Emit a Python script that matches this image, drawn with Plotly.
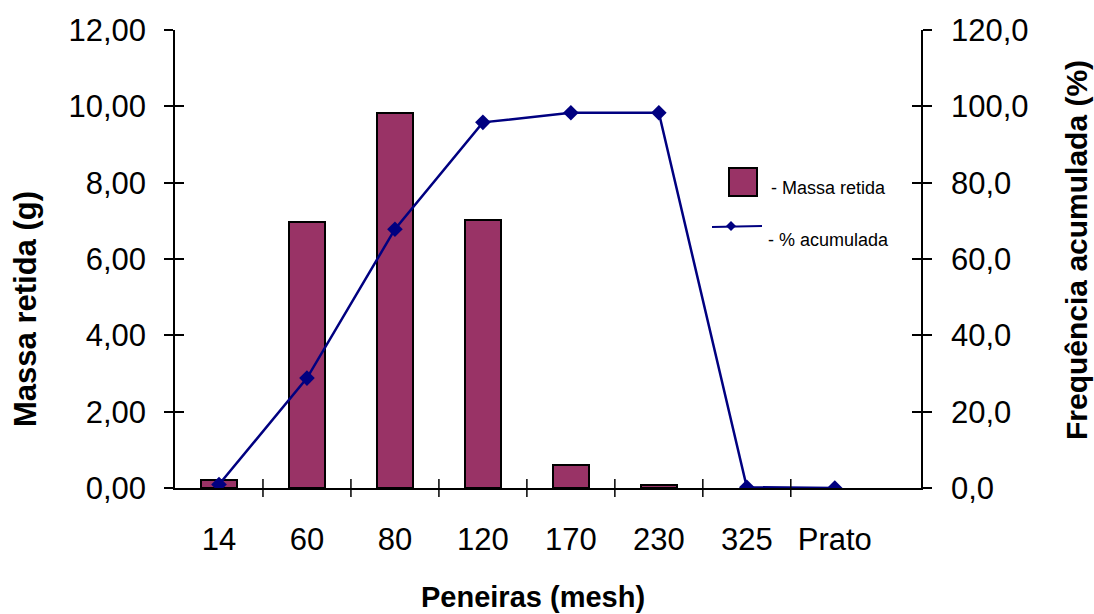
import plotly.graph_objects as go

# Sieve data
peneiras = ["14", "60", "80", "120", "170", "230", "325", "Prato"]
massa_retida = [0.22, 6.98, 9.82, 7.03, 0.60, 0.07, 0.0, 0.0]
pct_acumulada = [0.9, 28.8, 67.8, 95.8, 98.3, 98.3, 0.2, 0.0]

left_ticks = [0, 2, 4, 6, 8, 10, 12]
right_ticks = [0, 20, 40, 60, 80, 100, 120]

BAR_COLOR = "#993366"
LINE_COLOR = "#000080"
FONT = "Liberation Sans, Arial, sans-serif"

W, H = 1094, 614
L, R, T, B = 175, 921, 30, 488  # plot area in pixels


def px(x):
    return (x - L) / (R - L)


def py(y):
    return (B - y) / (B - T)


xpos = list(range(len(peneiras)))
# empty sieves get no outline
bar_edges = [2 if v > 0 else 0 for v in massa_retida]

fig = go.Figure()
fig.add_trace(go.Bar(
    x=xpos, y=massa_retida, width=0.41,
    marker=dict(color=BAR_COLOR, line=dict(color="black", width=bar_edges)),
    name="Massa retida", showlegend=False, yaxis="y",
))
fig.add_trace(go.Scatter(
    x=xpos, y=pct_acumulada, mode="lines+markers",
    line=dict(color=LINE_COLOR, width=2.5),
    marker=dict(symbol="diamond", size=12, color=LINE_COLOR),
    name="% acumulada", showlegend=False, yaxis="y2",
))

xrange = [-0.5, 7.98]
tick_font = dict(family=FONT, size=31, color="black")

fig.update_layout(
    width=W, height=H,
    margin=dict(l=L, r=W - R, t=T, b=H - B, pad=0),
    paper_bgcolor="white", plot_bgcolor="white",
    separators=", ",
    showlegend=False,
    bargap=0,
    xaxis=dict(
        range=xrange, tickvals=xpos, ticktext=peneiras, ticks="",
        showline=True, linecolor="black", linewidth=1.5,
        showgrid=False, zeroline=False, tickfont=tick_font,
        ticklabelstandoff=23, fixedrange=True,
    ),
    yaxis=dict(
        range=[0, 12], tickvals=left_ticks, tickformat=".2f",
        ticks="outside", ticklen=9, tickwidth=1.5, tickcolor="black",
        showline=True, linecolor="black", linewidth=1.5,
        showgrid=False, zeroline=False, tickfont=tick_font,
        ticklabelstandoff=12,
    ),
    yaxis3=dict(
        range=[0, 12], tickvals=left_ticks, overlaying="y", side="left",
        ticks="inside", ticklen=9, tickwidth=1.5, tickcolor="black",
        showticklabels=False, showline=False, showgrid=False, zeroline=False,
    ),
    yaxis2=dict(
        range=[0, 120], tickvals=right_ticks, tickformat=".1f",
        overlaying="y", side="right",
        ticks="outside", ticklen=9, tickwidth=1.5, tickcolor="black",
        showline=True, linecolor="black", linewidth=1.5,
        showgrid=False, zeroline=False, tickfont=tick_font,
        ticklabelstandoff=13,
    ),
    yaxis4=dict(
        range=[0, 120], tickvals=right_ticks, overlaying="y", side="right",
        ticks="inside", ticklen=9, tickwidth=1.5, tickcolor="black",
        showticklabels=False, showline=False, showgrid=False, zeroline=False,
    ),
)

# empty traces so the tick-only axes are drawn
fig.add_trace(go.Scatter(x=[None], y=[None], yaxis="y3", showlegend=False))
fig.add_trace(go.Scatter(x=[None], y=[None], yaxis="y4", showlegend=False))

shapes = []
# crossing ticks on the category axis, between categories
for b in [i + 0.5 for i in range(len(peneiras) - 1)]:
    shapes.append(dict(type="line", xref="x", yref="paper", x0=b, x1=b,
                       y0=-9 / (B - T), y1=9 / (B - T),
                       line=dict(color="black", width=1.5)))

# legend: bar swatch
shapes.append(dict(type="rect", xref="paper", yref="paper",
                   x0=px(729), x1=px(757), y0=py(196), y1=py(168),
                   fillcolor=BAR_COLOR, line=dict(color="black", width=2)))
# legend: line swatch with diamond
shapes.append(dict(type="line", xref="paper", yref="paper",
                   x0=px(712), x1=px(762), y0=py(227), y1=py(226),
                   line=dict(color=LINE_COLOR, width=2)))
dx, dy = 5, 5
cx, cy = 731, 226
shapes.append(dict(type="path", xref="paper", yref="paper",
                   path=f"M {px(cx - dx)} {py(cy)} L {px(cx)} {py(cy - dy)} "
                        f"L {px(cx + dx)} {py(cy)} L {px(cx)} {py(cy + dy)} Z",
                   fillcolor=LINE_COLOR, line=dict(color=LINE_COLOR, width=0)))
fig.update_layout(shapes=shapes)

ann = []
leg_font = dict(family=FONT, size=18, color="black")
ann.append(dict(text="- Massa retida", x=px(769), y=py(188), xref="paper", yref="paper",
                xanchor="left", yanchor="middle", showarrow=False, font=leg_font))
ann.append(dict(text="- % acumulada", x=px(766), y=py(240), xref="paper", yref="paper",
                xanchor="left", yanchor="middle", showarrow=False, font=leg_font))
# axis titles
ann.append(dict(text="<b>Massa retida (g)</b>", x=px(26), y=py(309),
                xref="paper", yref="paper", textangle=-90, showarrow=False,
                xanchor="center", yanchor="middle",
                font=dict(family=FONT, size=31, color="black")))
ann.append(dict(text="<b>Frequência acumulada (%)</b>", x=px(1076), y=py(250),
                xref="paper", yref="paper", textangle=-90, showarrow=False,
                xanchor="center", yanchor="middle",
                font=dict(family=FONT, size=30, color="black")))
ann.append(dict(text="<b>Peneiras (mesh)</b>", x=px(533), y=py(597),
                xref="paper", yref="paper", showarrow=False,
                xanchor="center", yanchor="middle",
                font=dict(family=FONT, size=29, color="black")))
fig.update_layout(annotations=ann)

fig.write_html("out.html")
